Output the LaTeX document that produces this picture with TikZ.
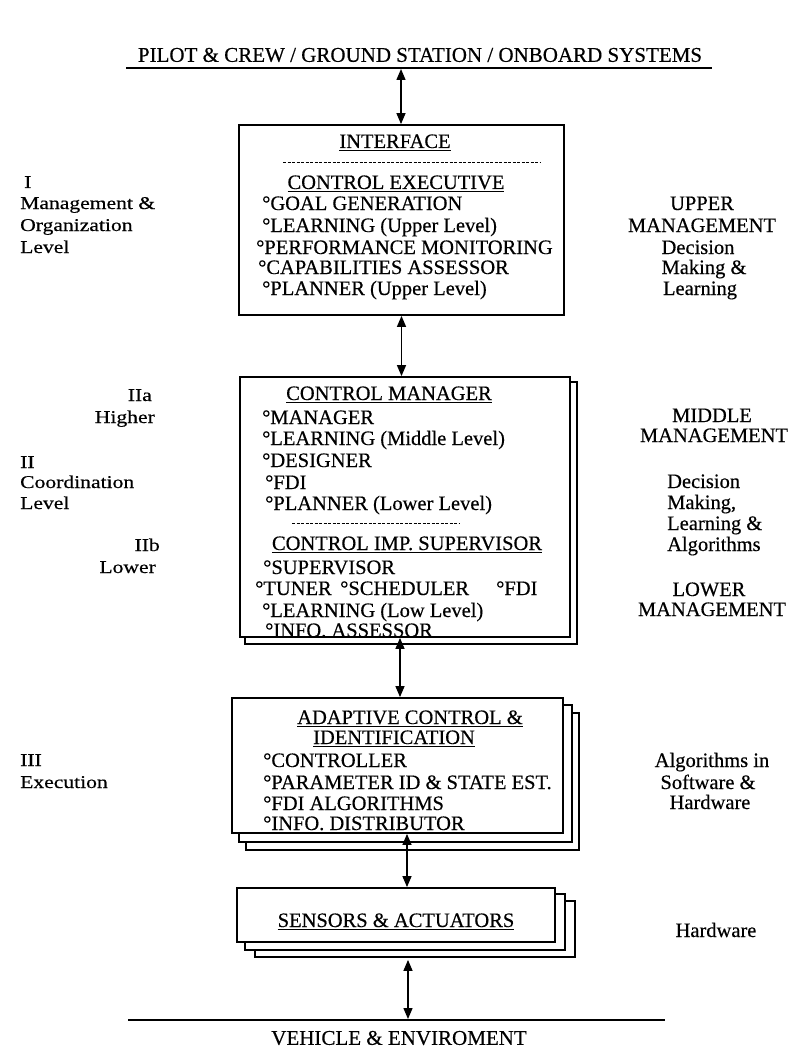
\documentclass[tikz,border=0pt]{standalone}
\usepackage{fontspec}
\setmainfont[FakeBold=0.4]{Liberation Serif}
\newfontfamily\sidefont[FakeStretch=1.2,FakeBold=0.4]{Liberation Serif}
\usetikzlibrary{arrows.meta,backgrounds}
% underlined heading with a firm rule
\newcommand\ulin[1]{\setbox0\hbox{#1}\rlap{\rule[-3pt]{\wd0}{1.3pt}}\box0}
\begin{document}
\begin{tikzpicture}[x=1pt,y=-1pt,
  boxtext/.style={inner sep=0pt, text height=14pt, text depth=0pt, font=\fontsize{20.5}{22}\selectfont},
  item/.style={boxtext, anchor=west},
  headtxt/.style={boxtext, anchor=center},
  lside/.style={inner sep=0pt, text height=12pt, text depth=0pt, font=\sidefont\fontsize{18}{20}\selectfont, anchor=west},
  lsider/.style={lside, anchor=east},
  rside/.style={boxtext, anchor=center},
  rsidel/.style={boxtext, anchor=west},
  panel/.style={draw, line width=1.8pt, fill=white, inner sep=0pt},
  sheet/.style={draw, line width=1.8pt, fill=white},
  dbl/.style={{Triangle[length=11pt,width=9pt]}-{Triangle[length=11pt,width=9pt]}, line width=1.4pt},
  sepline/.style={line width=1pt, dash pattern=on 3pt off 1.5pt},
  hline/.style={line width=1.6pt}
]
\useasboundingbox (0,0) rectangle (797,1051);

% ---------- top: outside world ----------
\node[inner sep=0pt, font=\fontsize{21}{22}\selectfont] (title) at (420,55) {PILOT \& CREW / GROUND STATION / ONBOARD SYSTEMS};
\coordinate (tl) at (126,68);
\coordinate (tr) at (712,68);
\coordinate (ta) at (401,69);
\draw[hline] (tl) -- (tr);

% ---------- level I : control executive ----------
\node[panel, minimum width=325pt, minimum height=190pt] (b1) at (401.5,220) {};
\node[headtxt] (t1) at (395,141) {\ulin{INTERFACE}};
\coordinate (d1a) at (283,163);
\coordinate (d1b) at (540,163);
\draw[sepline] (d1a) -- (d1b);
\node[headtxt] (t2) at (396,182) {\ulin{CONTROL EXECUTIVE}};
\node[item] (t3) at (262,203) {°GOAL GENERATION};
\node[item] (t4) at (262,225) {°LEARNING (Upper Level)};
\node[item] (t5) at (256,247) {°PERFORMANCE MONITORING};
\node[item] (t6) at (258,267) {°CAPABILITIES ASSESSOR};
\node[item] (t7) at (262,288) {°PLANNER (Upper Level)};

% ---------- level II : control manager / implementation supervisor ----------
\node[panel, minimum width=330pt, minimum height=260pt] (b2) at (405,507) {};
\node[headtxt] (u1) at (389,393) {\ulin{CONTROL MANAGER}};
\node[item] (u2) at (262,417) {°MANAGER};
\node[item] (u3) at (262,438) {°LEARNING (Middle Level)};
\node[item] (u4) at (262,460) {°DESIGNER};
\node[item] (u5) at (265,482) {°FDI};
\node[item] (u6) at (265,503) {°PLANNER (Lower Level)};
\coordinate (d2a) at (292,523);
\coordinate (d2b) at (460,523);
\draw[sepline] (d2a) -- (d2b);
\node[headtxt] (u7) at (407,543) {\ulin{CONTROL IMP. SUPERVISOR}};
\node[item] (u8) at (263,567) {°SUPERVISOR};
\node[item] (u9) at (255,588) {°TUNER};
\node[item] (u10) at (340,588) {°SCHEDULER};
\node[item] (u11) at (496,588) {°FDI};
\node[item] (u12) at (262,610) {°LEARNING (Low Level)};
\node[item] (u13) at (265,630) {°INFO. ASSESSOR};

% ---------- level III : adaptive control ----------
\node[panel, minimum width=331pt, minimum height=135pt] (b3) at (397.5,765.5) {};
\node[headtxt] (v1) at (410,717) {\ulin{ADAPTIVE CONTROL \&}};
\node[headtxt] (v2) at (394,737) {\ulin{IDENTIFICATION}};
\node[item] (v3) at (263,760) {°CONTROLLER};
\node[item] (v4) at (263,782) {°PARAMETER ID \& STATE EST.};
\node[item] (v5) at (263,803) {°FDI ALGORITHMS};
\node[item] (v6) at (263,823) {°INFO. DISTRIBUTOR};

% ---------- hardware ----------
\node[panel, minimum width=318pt, minimum height=54pt] (b4) at (396,915) {};
\node[headtxt] (w1) at (396,920) {\ulin{SENSORS \& ACTUATORS}};

% ---------- bottom: vehicle ----------
\coordinate (bl) at (128,1020);
\coordinate (br) at (665,1020);
\coordinate (ba) at (408,1019);
\draw[hline] (bl) -- (br);
\node[inner sep=0pt, font=\fontsize{21}{22}\selectfont] (veh) at (399,1038) {VEHICLE \& ENVIROMENT};

% ---------- stacked sheets behind the panels ----------
\begin{scope}[on background layer]
  \fill[white] (0,0) rectangle (797,1051);
  \draw[sheet] ([shift={(6,6)}]b2.north west) rectangle ([shift={(6,6)}]b2.south east);
  \draw[sheet] ([shift={(15,16)}]b3.north west) rectangle ([shift={(15,16)}]b3.south east);
  \draw[sheet] ([shift={(8,8)}]b3.north west) rectangle ([shift={(8,8)}]b3.south east);
  \draw[sheet] ([shift={(19,14)}]b4.north west) rectangle ([shift={(19,14)}]b4.south east);
  \draw[sheet] ([shift={(9,7)}]b4.north west) rectangle ([shift={(9,7)}]b4.south east);
\end{scope}

% ---------- connectors ----------
\coordinate (c23) at (400,0);
\coordinate (c34) at (407,0);
\coordinate (s4) at ([yshift=-17pt]b4.south);
\draw[dbl] (ta) -- (ta |- b1.north);
\draw[dbl] (b1.south) -- (b1.south |- b2.north);
\draw[dbl] (b2.south -| c23) -- (b3.north -| c23);
\draw[dbl] (b3.south -| c34) -- (b4.north -| c34);
\draw[dbl] (s4 -| ba) -- (ba);

% ---------- left: hierarchy levels ----------
\node[lside] (l1) at (24,182) {I};
\node[lside] (l2) at (20,203) {Management \&};
\node[lside] (l3) at (20,225) {Organization};
\node[lside] (l4) at (20,247) {Level};
\node[lsider] (l5) at (152,395) {IIa};
\node[lsider] (l6) at (155,417) {Higher};
\node[lside] (l7) at (20,462) {II};
\node[lside] (l8) at (20,482) {Coordination};
\node[lside] (l9) at (20,503) {Level};
\node[lsider] (l10) at (160,545) {IIb};
\node[lsider] (l11) at (156,567) {Lower};
\node[lside] (l12) at (20,760) {III};
\node[lside] (l13) at (20,782) {Execution};

% ---------- right: management roles ----------
\node[rside] (r1) at (702,203) {UPPER};
\node[rside] (r2) at (702,225) {MANAGEMENT};
\node[rside] (r3) at (698,247) {Decision};
\node[rside] (r4) at (704,267) {Making \&};
\node[rside] (r5) at (700,288) {Learning};
\node[rside] (r6) at (712,415) {MIDDLE};
\node[rside] (r7) at (714,435) {MANAGEMENT};
\node[rsidel] (r8) at (667,481) {Decision};
\node[rsidel] (r9) at (667,502) {Making,};
\node[rsidel] (r10) at (667,523) {Learning \&};
\node[rsidel] (r11) at (667,544) {Algorithms};
\node[rside] (r12) at (709,589) {LOWER};
\node[rside] (r13) at (712,609) {MANAGEMENT};
\node[rside] (r14) at (712,760) {Algorithms in};
\node[rside] (r15) at (708,782) {Software \&};
\node[rside] (r16) at (710,802) {Hardware};
\node[rside] (r17) at (716,930) {Hardware};
\end{tikzpicture}
\end{document}
